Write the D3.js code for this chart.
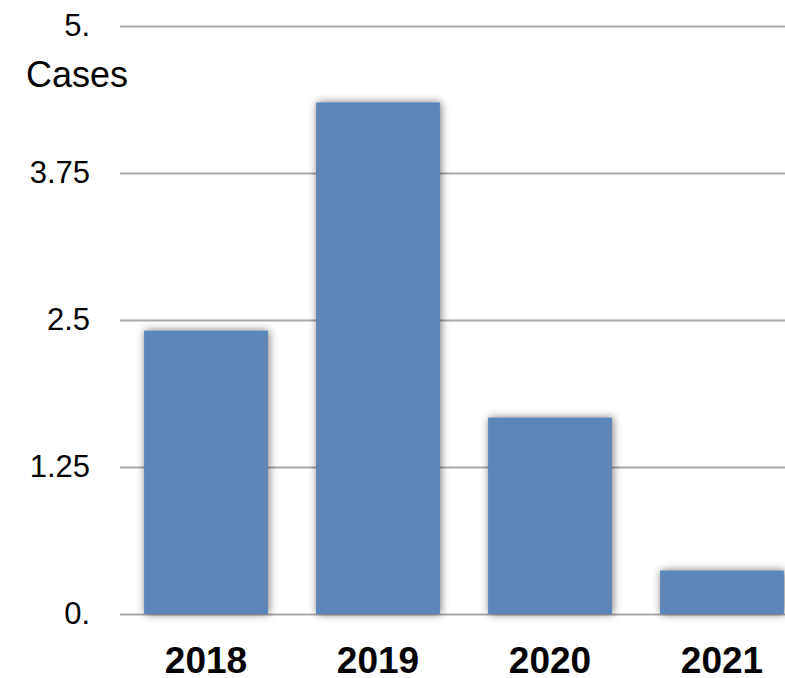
<!DOCTYPE html>
<html>
<head>
<meta charset="utf-8">
<script src="https://d3js.org/d3.v7.min.js"></script>
<style>
  body { margin: 0; background: #fff; }
  text { font-family: "Liberation Sans", Arial, sans-serif; }
</style>
</head>
<body>
<div id="chart"></div>
<script>
// data
var years = ["2018", "2019", "2020", "2021"];
var cases = [2.41, 4.35, 1.67, 0.37];
var tickValues = [0, 1.25, 2.5, 3.75, 5];
var tickLabels = ["0.", "1.25", "2.5", "3.75", "5."];

var W = 785, H = 678;
var svg = d3.select("#chart").append("svg")
    .attr("width", W)
    .attr("height", H);

// soft shadow round the bars
var defs = svg.append("defs");
var f = defs.append("filter").attr("id", "shadow")
    .attr("x", "-20%").attr("y", "-20%").attr("width", "140%").attr("height", "140%");
f.append("feGaussianBlur").attr("in", "SourceAlpha").attr("stdDeviation", 4).attr("result", "blur");
f.append("feOffset").attr("in", "blur").attr("dx", 1).attr("dy", 0).attr("result", "off");
f.append("feComponentTransfer").attr("in", "off").attr("result", "soft")
  .append("feFuncA").attr("type", "linear").attr("slope", 0.55);
var m = f.append("feMerge");
m.append("feMergeNode").attr("in", "soft");
m.append("feMergeNode").attr("in", "SourceGraphic");

var x = d3.scaleBand()
    .domain(years)
    .range([120, 808])
    .paddingInner(0.28)
    .paddingOuter(0.14);

var y = d3.scaleLinear()
    .domain([0, 5])
    .range([614, 26]);

// y axis with grid lines
var yAxis = svg.append("g")
    .attr("transform", "translate(120,0)")
    .call(d3.axisLeft(y)
        .tickValues(tickValues)
        .tickFormat(function(d, i) { return tickLabels[i]; })
        .tickSize(-(W - 120))
        .tickPadding(30));
yAxis.select(".domain").remove();
yAxis.selectAll(".tick line")
    .attr("stroke", "#a8a8a8")
    .attr("stroke-width", 2);
yAxis.selectAll(".tick text")
    .attr("fill", "#000")
    .style("font-size", "31px");

// axis title
svg.append("text")
    .attr("x", 26)
    .attr("y", 87)
    .style("font-size", "36px")
    .attr("fill", "#000")
    .text("Cases");

// bars
svg.selectAll("rect.bar")
    .data(years)
    .enter()
    .append("rect")
    .attr("class", "bar")
    .attr("x", function(d) { return x(d); })
    .attr("y", function(d, i) { return y(cases[i]); })
    .attr("width", x.bandwidth())
    .attr("height", function(d, i) { return y(0) - y(cases[i]); })
    .attr("fill", "#5b85b8")
    .attr("filter", "url(#shadow)");

// x axis labels
var xAxis = svg.append("g")
    .attr("transform", "translate(0,614)")
    .call(d3.axisBottom(x).tickSize(0));
xAxis.select(".domain").remove();
xAxis.selectAll(".tick text")
    .attr("y", 59)
    .attr("dy", 0)
    .attr("fill", "#000")
    .style("font-size", "37px")
    .style("font-weight", "bold");
</script>
</body>
</html>
